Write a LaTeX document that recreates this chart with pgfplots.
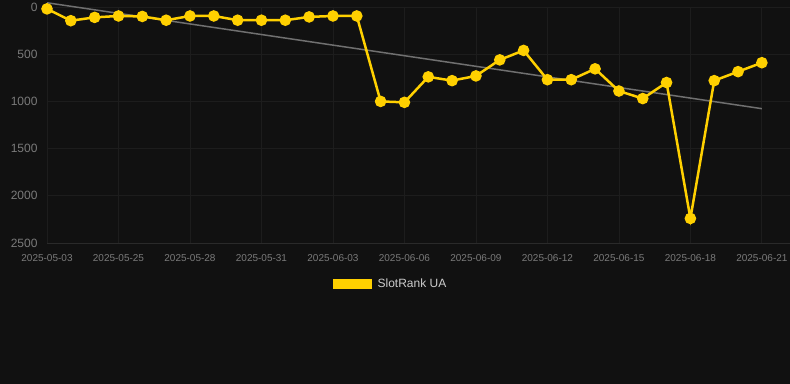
\documentclass[border=0pt]{standalone}
\usepackage{pgfplots}
\pgfplotsset{compat=1.18}
\usepackage{fontspec}
\setmainfont{Liberation Sans}
\definecolor{bg}{HTML}{111111}
\definecolor{gold}{HTML}{FFD000}
\definecolor{gridc}{HTML}{1D1D1D}
\definecolor{basec}{HTML}{2A2A2A}
\definecolor{tickc}{HTML}{7A7A7A}
\definecolor{trend}{HTML}{707070}
\definecolor{legc}{HTML}{CCCCCC}
\begin{document}
\begin{tikzpicture}
\fill[bg] (0,0) rectangle (790bp,384bp);
\useasboundingbox (0,0) rectangle (790bp,384bp);
\begin{axis}[
  at={(47bp,141bp)}, anchor=south west,
  scale only axis, width=743bp, height=236bp,
  xmin=0, xmax=31.18, ymin=0, ymax=2500,
  y dir=reverse,
  clip=false,
  axis line style={draw=none},
  xtick={0,3,...,30},
  xticklabels={2025-05-03,2025-05-25,2025-05-28,2025-05-31,2025-06-03,2025-06-06,2025-06-09,2025-06-12,2025-06-15,2025-06-18,2025-06-21},
  ytick={0,500,1000,1500,2000,2500},
  major tick length=0pt,
  grid=major,
  major grid style={gridc, line width=0.8bp},
  /pgf/number format/assume math mode=true,
  /pgf/number format/1000 sep={},
  xticklabel style={font=\fontsize{10bp}{12bp}\selectfont, text=tickc, yshift=-8bp},
  yticklabel style={font=\fontsize{12bp}{14bp}\selectfont, text=tickc, xshift=-6bp},
  legend style={at={(rel axis cs:0.4616,-0.1737)}, anchor=center, draw=none, fill=none,
    text=legc, font=\fontsize{12bp}{14bp}\selectfont},
]
\draw[color=basec, line width=0.8bp] (axis cs:0,2500) -- (axis cs:31.18,2500);
\addplot[trend, line width=1.5bp, forget plot] coordinates {(0,-45) (30,1077)};
\addplot[gold, line width=2.5bp, mark=*, mark size=4.5bp, mark options={fill=gold, draw=gold},
  legend image code/.code={\fill[gold, draw=none] (1bp,-5bp) rectangle (40bp,5bp); \path[draw=none, fill=none] (0bp,0bp) -- (44bp,0bp);}]
coordinates {
(0,20) (1,145) (2,110) (3,95) (4,100) (5,140) (6,95) (7,95) (8,140) (9,140) (10,140)
(11,105) (12,95) (13,95) (14,1000) (15,1010) (16,740) (17,780) (18,730) (19,560)
(20,460) (21,770) (22,770) (23,655) (24,890) (25,970) (26,800) (27,2240) (28,780)
(29,685) (30,590)
};
\addlegendentry{SlotRank UA}
\end{axis}
\end{tikzpicture}
\end{document}
